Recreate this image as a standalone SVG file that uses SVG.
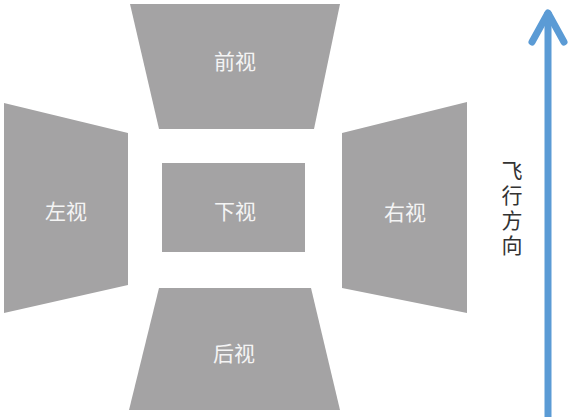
<svg xmlns="http://www.w3.org/2000/svg" width="571" height="417" viewBox="0 0 571 417">
<style>
.v{fill:#a4a3a4}
.t{font-family:"Noto Sans CJK SC","Noto Sans",sans-serif;font-size:21px;fill:#f4f4f4;text-anchor:middle;dominant-baseline:central}
.d{font-family:"Noto Sans CJK SC","Noto Sans",sans-serif;font-size:21px;fill:#333;writing-mode:vertical-rl;text-anchor:middle;letter-spacing:4px}
</style>
<rect width="571" height="417" fill="#fff"/>
<g id="front"><polygon class="v" points="130,4 340,4 314,129 159,129"/><text class="t" x="235" y="60">前视</text></g>
<g id="left"><polygon class="v" points="4,103 128,133 128,285 4,313"/><text class="t" x="66" y="210">左视</text></g>
<g id="right"><polygon class="v" points="342,133 467,102 467,313 342,288"/><text class="t" x="405" y="211">右视</text></g>
<g id="bottom"><rect class="v" x="162" y="163" width="143" height="89"/><text class="t" x="235" y="210">下视</text></g>
<g id="back"><polygon class="v" points="159,288 311,288 340,410 129,410"/><text class="t" x="234" y="352">后视</text></g>
<g id="connectors">
<line x1="548" y1="417" x2="548" y2="12" stroke="#5b9bd5" stroke-width="7"/>
<polyline points="532,42 548,13 564,42" fill="none" stroke="#5b9bd5" stroke-width="7" stroke-linecap="round" stroke-linejoin="round"/>
</g>
<g id="label"><text class="d" x="512" y="210">飞行方向</text></g>
</svg>
